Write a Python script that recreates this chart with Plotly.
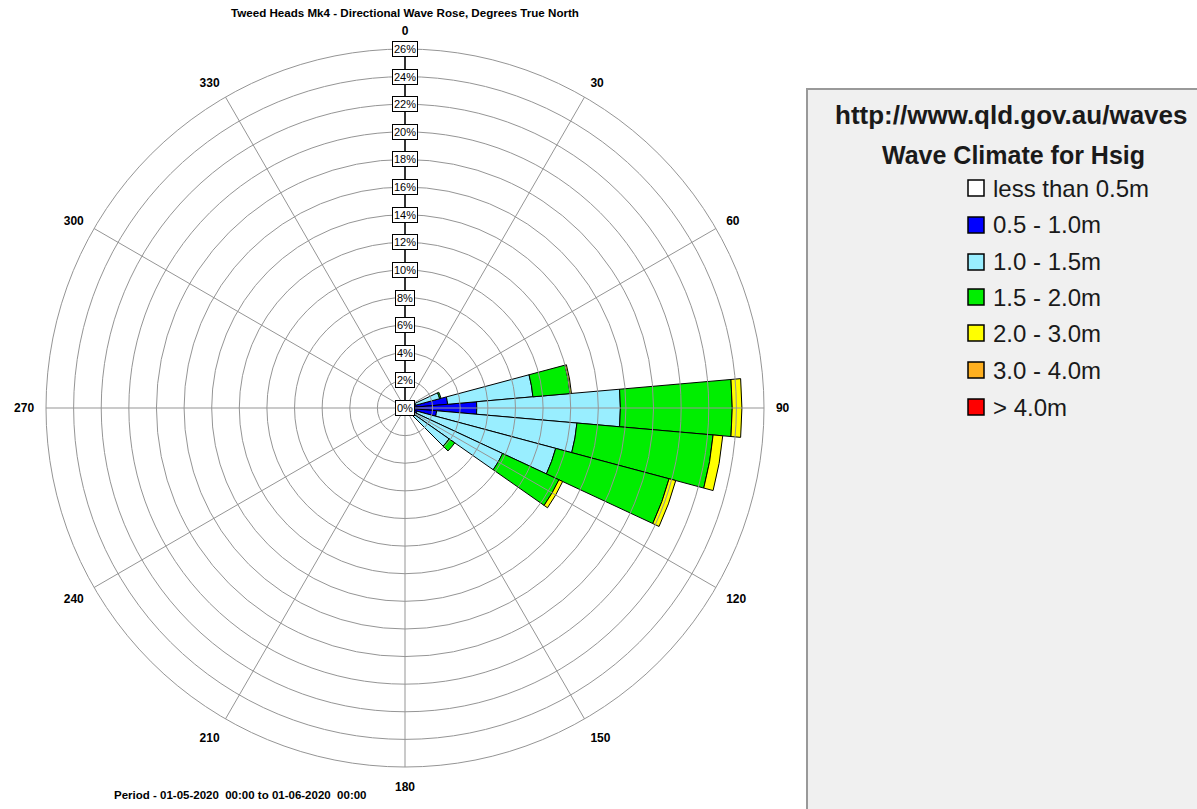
import plotly.graph_objects as go

# Directional bins (degrees true north, 10-degree sectors)
directions = [70, 80, 90, 100, 110, 120, 130]

# Percentage of occurrence per Hsig class, per direction bin
less_05 = [0.0, 0.0, 0.0, 0.0, 0.0, 0.0, 0.0]
h05_10 = [0.8, 3.1, 5.2, 2.3, 0.9, 0.5, 0.3]
h10_15 = [1.8, 6.2, 10.4, 10.2, 10.4, 7.3, 3.6]
h15_20 = [0.1, 2.7, 8.1, 9.9, 8.5, 4.5, 0.5]
h20_30 = [0.0, 0.1, 0.7, 0.7, 0.5, 0.3, 0.0]
h30_40 = [0.0, 0.0, 0.0, 0.0, 0.0, 0.0, 0.0]
h40_up = [0.0, 0.0, 0.0, 0.0, 0.0, 0.0, 0.0]

class_names = ["less than 0.5m", "0.5 - 1.0m", "1.0 - 1.5m", "1.5 - 2.0m",
               "2.0 - 3.0m", "3.0 - 4.0m", "> 4.0m"]
class_values = [less_05, h05_10, h10_15, h15_20, h20_30, h30_40, h40_up]
class_colors = ["#ffffff", "#0000ff", "#99eeff", "#00ee00",
                "#ffff00", "#ffb020", "#ff0000"]

radial_ticks = list(range(0, 27, 2))
angle_ticks = list(range(0, 360, 30))

W, H = 1197, 809
CX, CY, R = 405, 408, 359  # polar centre and radius in pixels

dom_x = [(CX - R) / W, (CX + R) / W]
dom_y = [1 - (CY + R) / H, 1 - (CY - R) / H]

fig = go.Figure()

for name, vals, col in zip(class_names, class_values, class_colors):
    fig.add_trace(go.Barpolar(
        r=vals, theta=directions, width=10, name=name,
        marker=dict(color=col, line=dict(color="black", width=1)),
        subplot="polar", showlegend=False,
    ))

# empty trace so the overlay grid subplot is drawn on top of the bars
fig.add_trace(go.Scatterpolar(r=[], theta=[], subplot="polar2",
                              showlegend=False, hoverinfo="skip"))

grid_col = "#959595"
fig.update_layout(
    width=W, height=H,
    margin=dict(l=0, r=0, t=0, b=0),
    paper_bgcolor="white",
    font=dict(family="Liberation Sans, Arial, sans-serif", color="black"),
    polar=dict(
        domain=dict(x=dom_x, y=dom_y),
        bgcolor="white",
        barmode="stack",
        radialaxis=dict(range=[0, 26], showgrid=False, showline=False,
                        showticklabels=False, ticks=""),
        angularaxis=dict(rotation=90, direction="clockwise", showgrid=False,
                         showline=False, showticklabels=False, ticks=""),
    ),
    polar2=dict(
        domain=dict(x=dom_x, y=dom_y),
        bgcolor="rgba(0,0,0,0)",
        radialaxis=dict(range=[0, 26], tickmode="array", tickvals=radial_ticks,
                        showgrid=True, gridcolor=grid_col, gridwidth=1,
                        showline=True, linecolor="black", linewidth=1.5,
                        showticklabels=False, ticks="", angle=90),
        angularaxis=dict(rotation=90, direction="clockwise",
                         tickmode="array", tickvals=angle_ticks,
                         ticktext=[str(a) for a in angle_ticks],
                         showgrid=True, gridcolor=grid_col, gridwidth=1,
                         showline=True, linecolor=grid_col, linewidth=1,
                         ticks="outside", ticklen=9, tickcolor="rgba(0,0,0,0)",
                         tickfont=dict(size=12, weight="bold", color="black")),
    ),
)

annotations = []
# boxed percentage labels along the north radial axis
for v in radial_ticks:
    annotations.append(dict(
        x=CX / W, y=1 - (CY - v / 26 * R) / H, xref="paper", yref="paper",
        text=f"{v}%", showarrow=False, xanchor="center", yanchor="middle",
        font=dict(size=11, color="black"), bgcolor="white",
        bordercolor="black", borderwidth=1, borderpad=1,
    ))

annotations.append(dict(
    x=CX / W, y=1 - 13 / H, xref="paper", yref="paper",
    text="Tweed Heads Mk4 - Directional Wave Rose, Degrees True North",
    showarrow=False, xanchor="center", yanchor="middle",
    font=dict(size=11.6, weight="bold")))
annotations.append(dict(
    x=240 / W, y=1 - 795 / H, xref="paper", yref="paper",
    text="Period - 01-05-2020  00:00 to 01-06-2020  00:00",
    showarrow=False, xanchor="center", yanchor="middle",
    font=dict(size=11.5, weight="bold")))

# legend panel
shapes = [dict(type="rect", xref="paper", yref="paper",
               x0=807 / W, x1=1.01, y0=-0.01, y1=1 - 89 / H,
               fillcolor="#f0f0f0", line=dict(color="#999999", width=2),
               layer="below")]
panel_font = "Liberation Sans, Arial, sans-serif"
annotations.append(dict(
    x=1011 / W, y=1 - 115 / H, xref="paper", yref="paper",
    text="http://www.qld.gov.au/waves", showarrow=False,
    xanchor="center", yanchor="middle",
    font=dict(family=panel_font, size=26, weight="bold", color="#1a1a1a")))
annotations.append(dict(
    x=1013 / W, y=1 - 155 / H, xref="paper", yref="paper",
    text="Wave Climate for Hsig", showarrow=False,
    xanchor="center", yanchor="middle",
    font=dict(family=panel_font, size=25, weight="bold", color="#1a1a1a")))

item_y = [188, 225, 262, 297, 333, 370, 407]
for name, col, yy in zip(class_names, class_colors, item_y):
    shapes.append(dict(type="rect", xref="paper", yref="paper",
                       x0=968 / W, x1=984 / W,
                       y0=1 - (yy + 8) / H, y1=1 - (yy - 8) / H,
                       fillcolor=col, line=dict(color="black", width=1.5)))
    annotations.append(dict(
        x=991 / W, y=1 - yy / H, xref="paper", yref="paper",
        text=name, showarrow=False, xanchor="left", yanchor="middle",
        font=dict(family=panel_font, size=24, color="#1a1a1a")))

fig.update_layout(annotations=annotations, shapes=shapes)

fig.write_html("out.html")
